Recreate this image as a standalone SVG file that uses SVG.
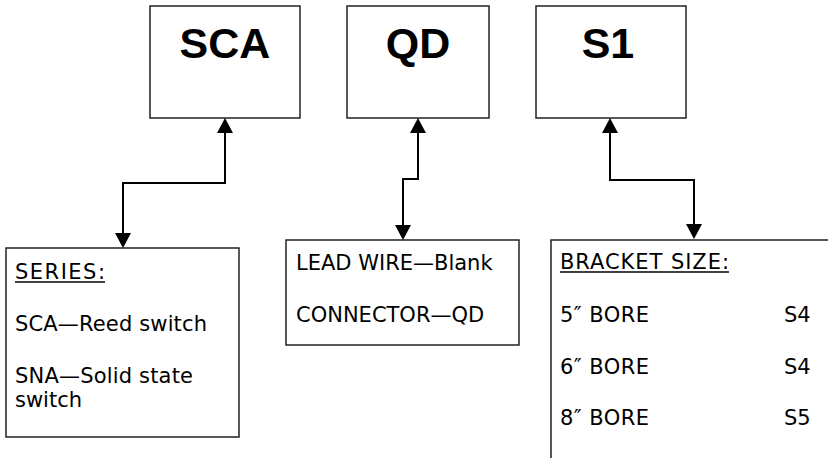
<svg xmlns="http://www.w3.org/2000/svg" width="828" height="458" viewBox="0 0 828 458">
<style>
.box{fill:#fff;stroke:#222;stroke-width:1.5}
.title{font-family:"Liberation Sans",Arial,sans-serif;font-weight:bold;font-size:43px;text-anchor:middle;fill:#000}
.body{font-family:"DejaVu Sans",Verdana,sans-serif;font-size:21px;fill:#000}
.conn{fill:none;stroke:#000;stroke-width:2}
.ul{stroke:#000;stroke-width:1.5}
</style>
<defs>
<marker id="arr" viewBox="0 0 15 16" refX="0" refY="8" markerWidth="15" markerHeight="16" markerUnits="userSpaceOnUse" orient="auto-start-reverse">
<path d="M0,0 L15,8 L0,16 z" fill="#000"/>
</marker>
</defs>
<rect width="828" height="458" fill="#fff"/>
<g id="node-sca">
<rect class="box" x="150" y="6" width="150" height="112"/>
<text class="title" x="225" y="58">SCA</text>
</g>
<g id="node-qd">
<rect class="box" x="347" y="6" width="142" height="112"/>
<text class="title" x="418" y="58">QD</text>
</g>
<g id="node-s1">
<rect class="box" x="536" y="6" width="150" height="112"/>
<text class="title" x="608" y="58">S1</text>
</g>
<g id="node-series">
<rect class="box" x="6" y="248" width="233" height="189"/>
<text class="body" x="15" y="279" textLength="90" lengthAdjust="spacing">SERIES:</text>
<line class="ul" x1="15" y1="282" x2="105" y2="282"/>
<text class="body" x="15" y="331" textLength="192" lengthAdjust="spacing">SCA—Reed switch</text>
<text class="body" x="15" y="383" textLength="178" lengthAdjust="spacing">SNA—Solid state</text>
<text class="body" x="15" y="407">switch</text>
</g>
<g id="node-lead">
<rect class="box" x="286" y="240" width="233" height="105"/>
<text class="body" x="296" y="270">LEAD WIRE—Blank</text>
<text class="body" x="296" y="322">CONNECTOR—QD</text>
</g>
<g id="node-bracket">
<rect class="box" x="551" y="240" width="300" height="240"/>
<text class="body" x="560" y="269" textLength="169" lengthAdjust="spacing">BRACKET SIZE:</text>
<line class="ul" x1="560" y1="272" x2="729" y2="272"/>
<text class="body" x="560" y="322" textLength="89" lengthAdjust="spacing">5″ BORE</text>
<text class="body" x="784" y="322">S4</text>
<text class="body" x="560" y="374" textLength="89" lengthAdjust="spacing">6″ BORE</text>
<text class="body" x="784" y="374">S4</text>
<text class="body" x="560" y="425" textLength="89" lengthAdjust="spacing">8″ BORE</text>
<text class="body" x="784" y="425">S5</text>
</g>
<g id="connectors">
<path class="conn" d="M123,233 V183 H225 V133" marker-start="url(#arr)" marker-end="url(#arr)"/>
<path class="conn" d="M403,225 V179 H418 V133" marker-start="url(#arr)" marker-end="url(#arr)"/>
<path class="conn" d="M694,224 V180 H610 V133" marker-start="url(#arr)" marker-end="url(#arr)"/>
</g>
</svg>
